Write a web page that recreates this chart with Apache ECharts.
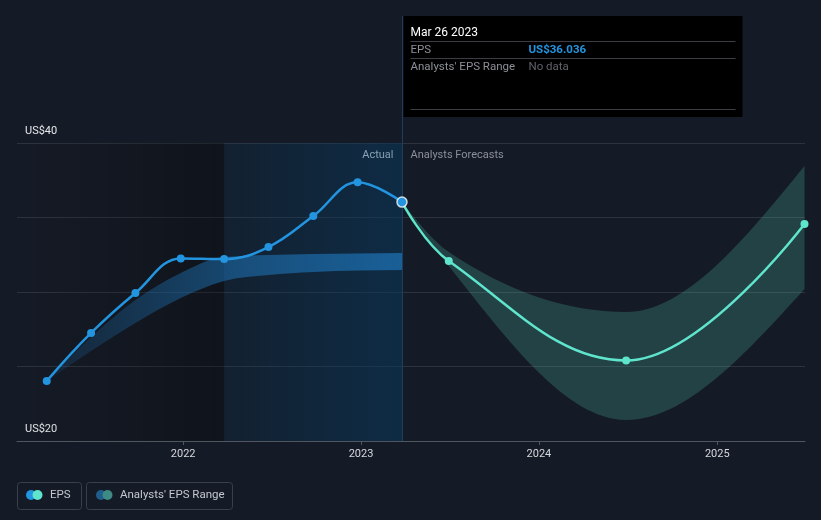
<!DOCTYPE html>
<html><head><meta charset="utf-8">
<script src="https://cdn.jsdelivr.net/npm/echarts@6/dist/echarts.min.js"></script>
<style>html,body{margin:0;padding:0;background:#151b26;}#c{width:821px;height:520px;}</style>
</head><body><div id="c"></div>
<script>
// ---- data ----
const actualDates = ['2021-03-27','2021-06-26','2021-09-25','2021-12-27','2022-03-26','2022-06-25','2022-09-25','2022-12-25','2023-03-26'];
const actualEps   = [24.03, 27.25, 29.93, 32.25, 32.21, 33.02, 35.10, 37.36, 36.036];
const pastRangeLow  = [24.03, 26.04, 27.92, 29.60, 30.74, 31.14, 31.34, 31.44, 31.48];
const pastRangeHigh = [24.03, 26.98, 29.46, 31.28, 32.35, 32.48, 32.55, 32.58, 32.62];
const forecastDates = ['2023-03-26','2023-06-30','2024-06-28','2025-06-29'];
const forecastEps   = [36.036, 32.08, 25.40, 34.56];
const forecastLow   = [36.036, 31.74, 21.41, 30.20];
const forecastHigh  = [36.036, 32.68, 28.66, 38.46];
const yearTicks = [2022, 2023, 2024, 2025];
const yTickLabels = {20: 'US$20', 40: 'US$40'};
const xMin = '2021-01-25', xMax = '2025-06-30';
const highlightStart = '2022-03-26';
const dividerDate = '2023-03-26';
const tooltipDate = 'Mar 26 2023';
const tooltipEps = 'US$36.036';

const FONT = 'Roboto, "Noto Sans", sans-serif';
const BLUE = '#2394df', TEAL = '#5ee5cc';

const ts = s => { const p = s.split('-').map(Number); return new Date(p[0], p[1] - 1, p[2]).getTime(); };
const pair = (d, v) => d.map((x, i) => [ts(x), v[i]]);
const yearTs = yearTicks.map(y => new Date(y, 0, 1).getTime());

// monotone-x cubic segments (pixel space)
function monoSegs(p) {
  const n = p.length, m = new Array(n).fill(0), s = [], h = [];
  for (let k = 0; k < n - 1; k++) { h[k] = p[k + 1][0] - p[k][0]; s[k] = (p[k + 1][1] - p[k][1]) / h[k]; }
  for (let k = 1; k < n - 1; k++) {
    const q = (s[k - 1] * h[k] + s[k] * h[k - 1]) / (h[k - 1] + h[k]);
    m[k] = (Math.sign(s[k - 1]) + Math.sign(s[k])) * Math.min(Math.abs(s[k - 1]), Math.abs(s[k]), 0.5 * Math.abs(q)) || 0;
  }
  if (n > 2) {
    m[0] = (3 * s[0] - m[1]) / 2;
    m[n - 1] = (3 * s[n - 2] - m[n - 2]) / 2;
  } else { m[0] = m[1] = s[0]; }
  const segs = [];
  for (let k = 0; k < n - 1; k++) {
    const d = h[k] / 3;
    segs.push([[p[k][0] + d, p[k][1] + m[k] * d], [p[k + 1][0] - d, p[k + 1][1] - m[k + 1] * d]]);
  }
  return segs;
}
function bandPath(up, lo) {
  const su = monoSegs(up), sl = monoSegs(lo);
  let d = 'M' + up[0][0] + ' ' + up[0][1];
  su.forEach((c, k) => { d += ' C' + c[0].join(' ') + ' ' + c[1].join(' ') + ' ' + up[k + 1].join(' '); });
  d += ' L' + lo[lo.length - 1].join(' ');
  for (let k = sl.length - 1; k >= 0; k--) d += ' C' + sl[k][1].join(' ') + ' ' + sl[k][0].join(' ') + ' ' + lo[k].join(' ');
  return d + ' Z';
}
function bandSeries(dates, low, high, fill) {
  return {type: 'custom', z: 3, silent: true, data: pair(dates, low),
    renderItem: (params, api) => {
      if (params.dataIndex !== 0) return;
      const up = dates.map((d, i) => api.coord([ts(d), high[i]]));
      const lo = dates.map((d, i) => api.coord([ts(d), low[i]]));
      return {type: 'path', shape: {pathData: bandPath(up, lo)}, style: {fill}, silent: true};
    }};
}

const chart = echarts.init(document.getElementById('c'));
const option = {
  backgroundColor: '#151b26',
  animation: false,
  textStyle: {fontFamily: FONT},
  grid: {left: 17, right: 16, top: 143, bottom: 79},
  xAxis: {
    type: 'value', min: ts(xMin), max: ts(xMax),
    axisLine: {lineStyle: {color: '#50565f'}},
    axisTick: {show: true, length: 4, lineStyle: {color: '#50565f'}, customValues: yearTs},
    axisLabel: {color: '#d5d8dd', fontSize: 11, margin: 8, customValues: yearTs,
      formatter: v => String(new Date(v).getFullYear())},
    splitLine: {show: false}
  },
  yAxis: {
    type: 'value', min: 20, max: 40, interval: 5,
    axisLine: {show: false}, axisTick: {show: false},
    splitLine: {lineStyle: {color: '#2d333d', width: 1}},
    axisLabel: {inside: true, margin: 8, color: '#e6e8eb', fontSize: 11,
      verticalAlign: 'bottom', padding: [0, 0, 6, 0],
      formatter: v => yTickLabels[v] || ''}
  },
  series: [
    {type: 'line', data: pair(actualDates, pastRangeLow),
      symbol: 'none', lineStyle: {opacity: 0}, silent: true, z: 1,
      markArea: {silent: true, data: [
        [{xAxis: ts(xMin), itemStyle: {color: new echarts.graphic.LinearGradient(0, 0, 1, 0, [
          {offset: 0, color: 'rgba(0,0,0,0)'}, {offset: 1, color: 'rgba(0,0,0,0.28)'}])}}, {xAxis: ts(highlightStart)}],
        [{xAxis: ts(highlightStart), itemStyle: {color: new echarts.graphic.LinearGradient(0, 0, 1, 0, [
          {offset: 0, color: 'rgba(8,57,94,0.18)'}, {offset: 1, color: 'rgba(8,57,94,0.55)'}])}}, {xAxis: ts(dividerDate)}]
      ]}},
    bandSeries(actualDates, pastRangeLow, pastRangeHigh, new echarts.graphic.LinearGradient(0, 0, 1, 0, [
        {offset: 0, color: 'rgba(30,120,190,0.12)'},
        {offset: 0.5, color: 'rgba(30,120,190,0.5)'},
        {offset: 1, color: 'rgba(30,120,190,0.68)'}])),
    bandSeries(forecastDates, forecastLow, forecastHigh, 'rgba(93,224,200,0.2)'),
    {name: 'EPS', type: 'line', data: pair(actualDates, actualEps), smooth: 0.4,
      symbol: 'circle', symbolSize: 8, showSymbol: true,
      lineStyle: {color: BLUE, width: 2.5}, itemStyle: {color: BLUE}, z: 5},
    {name: 'EPS forecast', type: 'line', data: pair(forecastDates, forecastEps), smooth: 0.4,
      symbol: 'circle', symbolSize: 8,
      lineStyle: {color: TEAL, width: 2.5}, itemStyle: {color: TEAL}, z: 4},
    {type: 'scatter', data: [[ts(dividerDate), actualEps[actualEps.length - 1]]], symbolSize: 10,
      itemStyle: {color: BLUE, borderColor: '#ffffff', borderWidth: 1.5}, z: 10, silent: true}
  ]
};
chart.setOption(option);

const px = chart.convertToPixel({gridIndex: 0}, [ts(dividerDate), 40]);
const dx = Math.round(px[0]) + 0.5, topY = px[1];
const bottomY = chart.convertToPixel({gridIndex: 0}, [ts(dividerDate), 20])[1];
const tx = dx + 1;
const txt = (x, y, s, fill, extra) => ({type: 'text', x, y, style: Object.assign({text: s, fill, font: '11px ' + FONT, verticalAlign: 'middle'}, extra || {})});
const sep = (y) => ({type: 'line', shape: {x1: tx + 7, y1: y, x2: tx + 332, y2: y}, style: {stroke: '#3b3f45', lineWidth: 1}});
const zz = (o, z) => Object.assign(o, {z});
chart.setOption({graphic: [
  {type: 'line', shape: {x1: dx, y1: 16, x2: dx, y2: bottomY}, style: {stroke: '#1f3d5c', lineWidth: 1}, z: 1},
  {type: 'rect', shape: {x: tx, y: 16, width: 339, height: 101}, style: {fill: '#000000'}, z: 20},
  zz(txt(tx + 7, 32.5, tooltipDate, '#ffffff', {font: '12px ' + FONT}), 21),
  zz(sep(41.5), 21),
  zz(txt(tx + 7, 50.5, 'EPS', '#8c9096', {font: '11.5px ' + FONT}), 21),
  zz(txt(tx + 125, 50.5, tooltipEps, BLUE, {font: 'bold 11.5px ' + FONT}), 21),
  zz(sep(58.5), 21),
  zz(txt(tx + 7, 67.5, "Analysts' EPS Range", '#8c9096', {font: '11.5px ' + FONT}), 21),
  zz(txt(tx + 125, 67.5, 'No data', '#5f6368', {font: '11.5px ' + FONT}), 21),
  zz(sep(109.5), 21),
  txt(dx - 9, topY + 12, 'Actual', '#ffffff', {align: 'right'}),
  txt(dx + 8, topY + 12, 'Analysts Forecasts', '#8a8f98'),
  // legend
  {type: 'rect', shape: {x: 17.5, y: 482.5, width: 64, height: 27, r: 3}, style: {fill: 'none', stroke: '#3a404b', lineWidth: 1}},
  {type: 'circle', shape: {cx: 31, cy: 495, r: 5}, style: {fill: BLUE}},
  {type: 'circle', shape: {cx: 37.5, cy: 495, r: 5}, style: {fill: TEAL}},
  txt(50, 495.5, 'EPS', '#c3c7ce', {font: '11.5px ' + FONT}),
  {type: 'rect', shape: {x: 86.5, y: 482.5, width: 146, height: 27, r: 3}, style: {fill: 'none', stroke: '#3a404b', lineWidth: 1}},
  {type: 'circle', shape: {cx: 101, cy: 495, r: 5}, style: {fill: '#1f5e8c'}},
  {type: 'circle', shape: {cx: 107.5, cy: 495, r: 5}, style: {fill: '#3e8a84'}},
  txt(120, 495.5, "Analysts' EPS Range", '#c3c7ce', {font: '11.5px ' + FONT})
]});
</script></body></html>
